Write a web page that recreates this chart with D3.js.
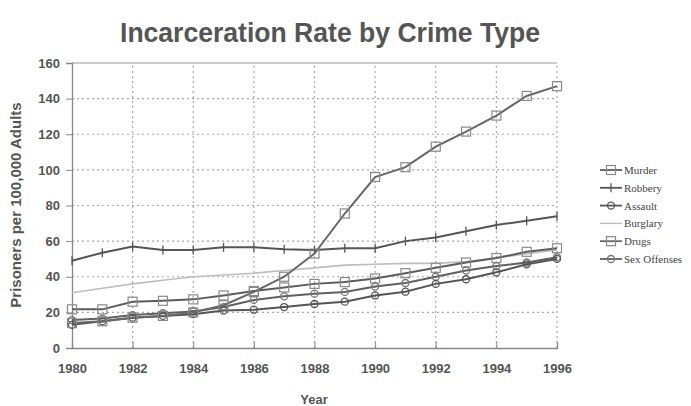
<!DOCTYPE html>
<html>
<head>
<meta charset="utf-8">
<script src="https://cdn.jsdelivr.net/npm/d3@7"></script>
<style>
  body { margin: 0; background: #fff; }
</style>
</head>
<body>
<script>
// data
var years = [1980, 1981, 1982, 1983, 1984, 1985, 1986, 1987, 1988, 1989, 1990, 1991, 1992, 1993, 1994, 1995, 1996];
var murder   = [21.7, 21.7, 26, 26.5, 27.3, 29.5, 32, 34, 36, 37, 39, 42, 45, 48, 50.5, 54, 56];
var robbery  = [49, 53.5, 57, 55, 55, 56.5, 56.5, 55.5, 55, 56, 56, 60, 62, 65.5, 69, 71.5, 74];
var assault  = [13, 15, 17, 18, 19, 21, 21.5, 23, 24.7, 26, 29.5, 31.6, 36, 38.6, 42.5, 47, 50];
var burglary = [31, 33.5, 36, 38, 40, 41, 42, 43.5, 45, 46.5, 47, 47.5, 47.5, 48.5, 50.5, 53, 55];
var drugs    = [14, 15, 17, 18, 20, 24, 31.5, 40, 53, 75.5, 96, 101.5, 113, 121.5, 130.5, 141.5, 147];
var sexOff   = [15.7, 16.5, 18.5, 19.5, 20.5, 23, 27, 29, 30.5, 31.5, 34.5, 36.5, 40, 43.5, 46, 48, 51];
var seriesNames = ["Murder", "Robbery", "Assault", "Burglary", "Drugs", "Sex Offenses"];
var yTicks = [0, 20, 40, 60, 80, 100, 120, 140, 160];
var xTicks = [1980, 1982, 1984, 1986, 1988, 1990, 1992, 1994, 1996];

var series = [
  {name: seriesNames[0], values: murder, line: "#5c5c5c", mark: "square", mc: "#8a8a8a"},
  {name: seriesNames[1], values: robbery, line: "#555", mark: "tick", mc: "#555"},
  {name: seriesNames[2], values: assault, line: "#555", mark: "circle", mc: "#555"},
  {name: seriesNames[3], values: burglary, line: "#bdbdbd", mark: "none", mc: "#bdbdbd"},
  {name: seriesNames[4], values: drugs, line: "#666", mark: "square", mc: "#888"},
  {name: seriesNames[5], values: sexOff, line: "#606060", mark: "circle", mc: "#777"}
];

var sans = "'Liberation Sans', Arial, sans-serif";

var svg = d3.select("body").append("svg")
    .attr("width", 691)
    .attr("height", 406);

var x = d3.scaleLinear().domain([1980, 1996]).range([72, 557]);
var y = d3.scaleLinear().domain([0, 160]).range([348, 63]);

// title
svg.append("text")
    .attr("x", 330).attr("y", 42)
    .attr("text-anchor", "middle")
    .style("font-family", sans)
    .attr("font-size", 27).attr("font-weight", "bold")
    .attr("fill", "#555")
    .attr("textLength", 420).attr("lengthAdjust", "spacingAndGlyphs")
    .text("Incarceration Rate by Crime Type");

// grid
svg.selectAll(".hgrid")
    .data(yTicks.filter(function(d) { return d > 0 && d < 160; }))
    .enter().append("line")
    .attr("x1", 72).attr("x2", 557)
    .attr("y1", function(d) { return y(d); })
    .attr("y2", function(d) { return y(d); })
    .attr("stroke", "#a8a8a8").attr("stroke-width", 1.2)
    .attr("stroke-dasharray", "2,3");

svg.selectAll(".vgrid")
    .data(xTicks.filter(function(d) { return d > 1980; }))
    .enter().append("line")
    .attr("y1", y(0)).attr("y2", y(160))
    .attr("x1", function(d) { return x(d); })
    .attr("x2", function(d) { return x(d); })
    .attr("stroke", "#a8a8a8").attr("stroke-width", 1.2)
    .attr("stroke-dasharray", "2,3");

svg.append("line")
    .attr("x1", 72).attr("x2", 557)
    .attr("y1", y(160)).attr("y2", y(160))
    .attr("stroke", "#bbb").attr("stroke-width", 1.5);

// axes
var yAxis = svg.append("g")
    .attr("transform", "translate(72,0)")
    .call(d3.axisLeft(y).tickValues(yTicks).tickSize(6).tickPadding(6));
var xAxis = svg.append("g")
    .attr("transform", "translate(0,348)")
    .call(d3.axisBottom(x).tickValues(xTicks).tickFormat(d3.format("d")).tickSize(-6).tickPadding(16));

[yAxis, xAxis].forEach(function(g) {
  g.select(".domain").attr("stroke", "#888").attr("stroke-width", 1.3);
  g.selectAll(".tick line").attr("stroke", "#888");
  g.selectAll("text")
      .style("font-family", sans)
      .attr("font-size", 13).attr("font-weight", "bold").attr("fill", "#555");
});

svg.append("text")
    .attr("transform", "translate(21,205) rotate(-90)")
    .attr("text-anchor", "middle")
    .style("font-family", sans)
    .attr("font-size", 15).attr("font-weight", "bold").attr("fill", "#555")
    .text("Prisoners per 100,000 Adults");

svg.append("text")
    .attr("x", 314).attr("y", 404)
    .attr("text-anchor", "middle")
    .style("font-family", sans)
    .attr("font-size", 13).attr("font-weight", "bold").attr("fill", "#555")
    .text("Year");

// lines
var line = d3.line()
    .x(function(d, i) { return x(years[i]); })
    .y(function(d) { return y(d); });

function drawMarker(g, type, color) {
  if (type == "square") {
    g.append("rect").attr("x", -4.5).attr("y", -4.5).attr("width", 9).attr("height", 9)
        .attr("fill", "none").attr("stroke", color).attr("stroke-width", 1.2);
  } else if (type == "circle") {
    g.append("circle").attr("r", 3.5)
        .attr("fill", "none").attr("stroke", color).attr("stroke-width", 1.3);
  } else if (type == "tick") {
    g.append("line").attr("y1", -4.5).attr("y2", 4.5)
        .attr("stroke", color).attr("stroke-width", 1.3);
  }
}

var order = [3, 0, 5, 2, 1, 4];
order.forEach(function(k) {
  var s = series[k];
  svg.append("path")
      .datum(s.values)
      .attr("d", line)
      .attr("fill", "none")
      .attr("stroke", s.line)
      .attr("stroke-width", s.name == "Burglary" ? 1.6 : 2);
  svg.selectAll(".m" + k)
      .data(s.values)
      .enter().append("g")
      .attr("transform", function(d, i) { return "translate(" + x(years[i]) + "," + y(d) + ")"; })
      .each(function() { drawMarker(d3.select(this), s.mark, s.mc); });
});

// legend
var legend = svg.selectAll(".legend")
    .data(series)
    .enter().append("g")
    .attr("transform", function(d, i) { return "translate(600," + (170 + i * 17.8) + ")"; });

legend.append("line")
    .attr("x1", 0).attr("x2", 22)
    .attr("stroke", function(d) { return d.line; })
    .attr("stroke-width", function(d) { return d.name == "Burglary" ? 1.4 : 1.8; });

legend.append("g")
    .attr("transform", "translate(11,0)")
    .each(function(d) { drawMarker(d3.select(this), d.mark, d.mc); });

legend.append("text")
    .attr("x", 24).attr("y", 4)
    .style("font-family", "'Liberation Serif', 'Times New Roman', serif")
    .attr("font-size", 11).attr("fill", "#444")
    .text(function(d) { return d.name; });
</script>
</body>
</html>
